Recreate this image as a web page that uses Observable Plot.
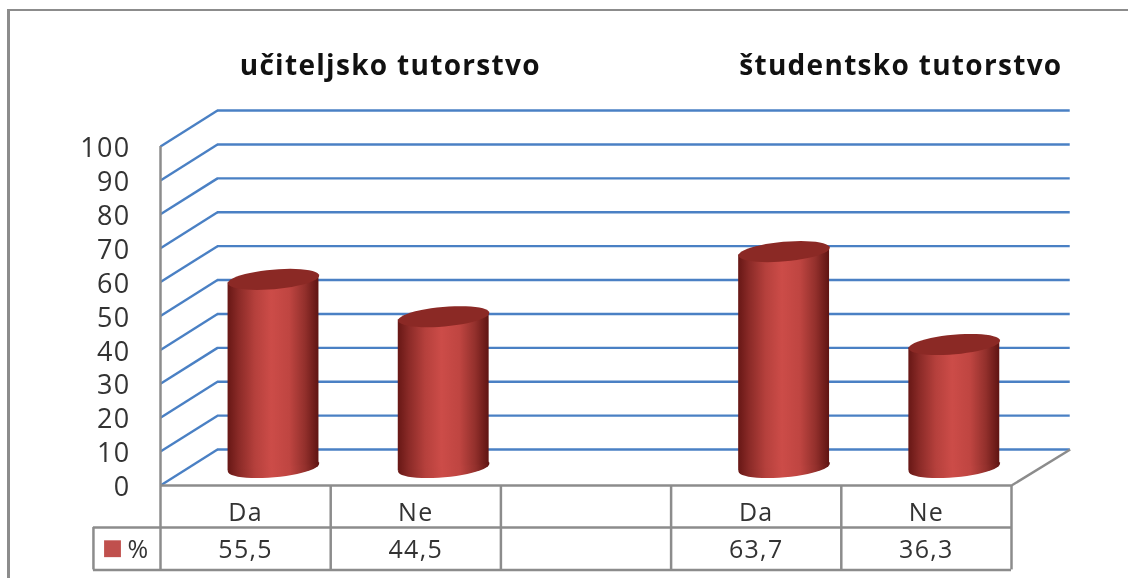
<!DOCTYPE html>
<html>
<head>
<meta charset="utf-8">
<script src="https://cdn.jsdelivr.net/npm/d3@7"></script>
<script src="https://cdn.jsdelivr.net/npm/@observablehq/plot@0.6"></script>
<style>
html,body{margin:0;padding:0;background:#fff;width:1128px;height:578px;overflow:hidden}
#wrap{position:relative;width:1128px;height:578px}
#frame{position:absolute;left:7px;top:9px;right:-5px;bottom:-5px;border-left:3px solid #8c8c8c;border-top:2px solid #8c8c8c}
#chart{position:absolute;left:0;top:0;filter:blur(0.45px)}
svg{display:block}
</style>
</head>
<body>
<div id="wrap"><div id="frame"></div><div id="chart"></div></div>
<script>
const categories = ["Da", "Ne", "", "Da", "Ne"];
const values = [55.5, 44.5, null, 63.7, 36.3];
const valueLabels = ["55,5", "44,5", "", "63,7", "36,3"];
const groupTitles = ["učiteljsko tutorstvo", "študentsko tutorstvo"];
const groupCenters = [1.35, 4.35];
const yTicks = [0, 10, 20, 30, 40, 50, 60, 70, 80, 90, 100];
const seriesName = "%";

// Oblique depth of the 3-D floor, in data units
const depthX = 0.335, depthY = 10.6;
const midX = 0.164, midY = 5.3;
const halfW = 0.267, tilt = 1;
// Table rows, below the value axis, in data units
const row1 = -12.4, row2 = -24.9, legendX = -0.394;
const GRID = "#4a80c4", AXIS = "#8c8c8c", FONT = "'Open Sans', sans-serif";

const idx = d3.range(categories.length);
const bars = idx.filter(i => values[i] != null);
const bodies = bars.flatMap(i => [-1, 1].map(s => ({
  key: i, x: i + .5 + midX + s * halfW,
  y1: midY + s * tilt, y2: midY + values[i] + s * tilt
})));
const tiltedEllipse = {
  draw(ctx) {
    const a = 45.8, b = 9.8, t = -5 * Math.PI / 180, n = 48;
    for (let k = 0; k < n; k++) {
      const u = 2 * Math.PI * k / n;
      const px = a * Math.cos(u), py = b * Math.sin(u);
      const X = px * Math.cos(t) - py * Math.sin(t), Y = px * Math.sin(t) + py * Math.cos(t);
      k ? ctx.lineTo(X, Y) : ctx.moveTo(X, Y);
    }
    ctx.closePath();
  }
};
const cx = i => i + .5 + midX;

const plot = Plot.plot({
  width: 1128, height: 578,
  marginLeft: 160, marginRight: 117, marginTop: 146, marginBottom: 93,
  style: {background: "transparent", fontFamily: FONT, letterSpacing: "1.3px"},
  x: {type: "linear", domain: [0, 5], axis: null},
  y: {type: "linear", domain: [0, 100], axis: null},
  marks: [
    // back wall + side wall gridlines
    Plot.ruleY(yTicks, {y: d => d + depthY, x1: depthX, x2: 5 + depthX + 0.01, stroke: GRID, strokeWidth: 2.4}),
    Plot.link(yTicks, {x1: 0, x2: depthX, y1: d => d, y2: d => d + depthY, stroke: GRID, strokeWidth: 2.4}),
    // floor right edge
    Plot.link([0], {x1: 5, x2: 5 + depthX + 0.01, y1: 0, y2: depthY, stroke: AXIS, strokeWidth: 2.4}),
    // table and axis lines
    Plot.ruleX([0], {y1: row2, y2: 100, stroke: AXIS, strokeWidth: 2.5}),
    Plot.ruleX([1, 2, 3, 4, 5], {y1: row2, y2: 0, stroke: AXIS, strokeWidth: 2.5}),
    Plot.ruleY([0], {x1: 0, x2: 5, stroke: AXIS, strokeWidth: 2.5}),
    Plot.ruleY([row1], {x1: legendX, x2: 5, stroke: AXIS, strokeWidth: 2.5}),
    Plot.ruleY([row2], {x1: legendX, x2: 5, stroke: AXIS, strokeWidth: 2.5}),
    Plot.ruleX([legendX], {y1: row2, y2: row1, stroke: AXIS, strokeWidth: 2.5}),
    // cylinders
    Plot.dot(bars, {x: cx, y: midY, symbol: tiltedEllipse, r: 1, fill: "url(#cyl)", stroke: "none"}),
    Plot.areaY(bodies, {x: "x", y1: "y1", y2: "y2", z: "key", fill: "url(#cyl)"}),
    Plot.dot(bars, {x: cx, y: i => midY + values[i], symbol: tiltedEllipse, r: 1, fill: "#8b2925", stroke: "none"}),
    // axis labels
    Plot.axisY({ticks: yTicks, tickSize: 0, tickPadding: 30, fontSize: 27, fill: "#333", anchor: "left", label: null, dy: 2}),
    // titles
    Plot.text(groupTitles, {x: (d, i) => groupCenters[i], y: 123.6, text: d => d, fontSize: 28, fontWeight: 700, fill: "#111", fontFamily: FONT}),
    // table text
    Plot.text(idx, {x: i => i + .5, y: row1 / 2, text: i => categories[i], fontSize: 25, fill: "#333", dy: 6}),
    Plot.text(idx, {x: i => i + .5, y: (row1 + row2) / 2, text: i => valueLabels[i], fontSize: 25, fill: "#333", dy: 1}),
    Plot.dot([seriesName], {x: legendX + 0.112, y: (row1 + row2) / 2, symbol: "square", r: 9.5, fill: "#c0504d", stroke: "none"}),
    Plot.text([seriesName], {x: legendX + 0.265, y: (row1 + row2) / 2, text: d => d, fontSize: 25, fill: "#333", dy: 1})
  ]
});

const defs = d3.create("svg:defs");
const g = defs.append("linearGradient").attr("id", "cyl").attr("x1", 0).attr("x2", 1).attr("y1", 0).attr("y2", 0);
[[0, "#671715"], [.12, "#8a2a27"], [.3, "#b5403c"], [.48, "#cc4c48"], [.68, "#bf4541"], [.85, "#93302c"], [1, "#5f1412"]]
  .forEach(([o, c]) => g.append("stop").attr("offset", o).attr("stop-color", c));
plot.insertBefore(defs.node(), plot.firstChild);
document.getElementById("chart").appendChild(plot);
</script>
</body>
</html>
